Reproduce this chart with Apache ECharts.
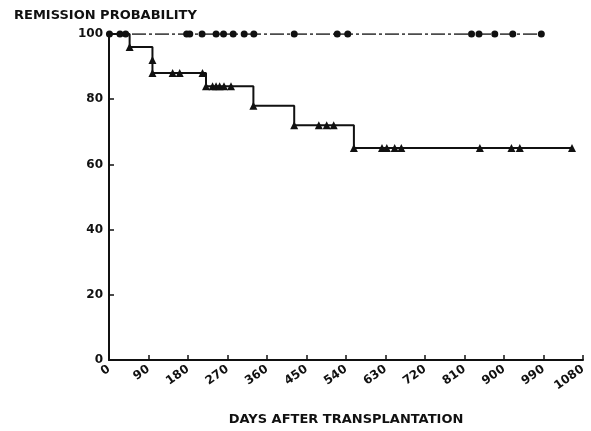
<!DOCTYPE html>
<html>
<head>
<meta charset="utf-8">
<script src="https://cdn.jsdelivr.net/npm/echarts@6/dist/echarts.min.js"></script>
<style>
  html, body { margin: 0; padding: 0; background: #fff; }
  #chart { width: 591px; height: 431px; }
</style>
</head>
<body>
<div id="chart"></div>
<script>
// 缓解概率曲线（两组）

// x 轴刻度 (天)
var xTicks = [0, 90, 180, 270, 360, 450, 540, 630, 720, 810, 900, 990, 1080];

// 下方阶梯曲线 (三角)
var stepDays = [0, 47, 99, 99, 221, 329, 422, 558, 1055];
var stepProb = [100, 96, 92, 88, 84, 78, 72, 65, 65];

var triDays = [47, 99, 99, 145, 161, 213, 221, 236, 244, 252, 262, 278, 329, 422, 478, 496, 512, 558, 622, 633, 651, 666, 845, 917, 936, 1055];
var triProb = [96, 92, 88, 88, 88, 88, 84, 84, 84, 84, 84, 84, 78, 72, 72, 72, 72, 65, 65, 65, 65, 65, 65, 65, 65, 65];

// 上方曲线 (圆点)，一直保持 100
var dotDays = [1, 25, 38, 177, 184, 212, 244, 261, 283, 308, 330, 422, 520, 544, 826, 843, 879, 920, 985];
var dotProb = [100, 100, 100, 100, 100, 100, 100, 100, 100, 100, 100, 100, 100, 100, 100, 100, 100, 100, 100];
var topLineDays = [0, 985];
var topLineProb = [100, 100];

function pairs(xs, ys) {
    var out = [];
    for (var i = 0; i < xs.length; i++) {
        out.push([xs[i], ys[i]]);
    }
    return out;
}

var font = 'DejaVu Sans';
var ink = '#111';

var chart = echarts.init(document.getElementById('chart'));
var option = {
    backgroundColor: '#fff',
    animation: false,
    title: {
        text: 'REMISSION PROBABILITY',
        left: 9,
        top: 4,
        textStyle: { fontFamily: font, fontWeight: 'bold', fontSize: 13, color: ink }
    },
    grid: { left: 109, right: 8, top: 34, bottom: 63 },
    xAxis: {
        type: 'value',
        min: 0,
        max: 1080,
        interval: 90,
        name: 'DAYS AFTER TRANSPLANTATION',
        nameLocation: 'middle',
        nameGap: 53,
        nameTextStyle: { fontFamily: font, fontWeight: 'bold', fontSize: 13, color: ink },
        axisLine: { lineStyle: { color: ink, width: 2 } },
        axisTick: { inside: true, length: 5, lineStyle: { color: ink, width: 1.5 } },
        axisLabel: {
            rotate: 35,
            margin: 8,
            fontFamily: font,
            fontWeight: 'bold',
            fontSize: 12,
            color: ink,
            formatter: function (v) { return String(v); }
        },
        splitLine: { show: false }
    },
    yAxis: {
        type: 'value',
        min: 0,
        max: 100,
        interval: 20,
        axisLine: { show: true, lineStyle: { color: ink, width: 2 } },
        axisTick: { show: true, inside: true, length: 5, lineStyle: { color: ink, width: 1.5 } },
        axisLabel: { margin: 6, fontFamily: font, fontWeight: 'bold', fontSize: 12, color: ink },
        splitLine: { show: false }
    },
    series: [
        {
            type: 'line',
            data: pairs(topLineDays, topLineProb),
            showSymbol: false,
            lineStyle: { color: ink, width: 1.3, type: [14, 3, 3, 3] },
            z: 2
        },
        {
            type: 'scatter',
            data: pairs(dotDays, dotProb),
            symbol: 'circle',
            symbolSize: 7,
            itemStyle: { color: ink, opacity: 1 },
            z: 3
        },
        {
            type: 'line',
            step: 'end',
            data: pairs(stepDays, stepProb),
            showSymbol: false,
            lineStyle: { color: ink, width: 2 },
            z: 2
        },
        {
            type: 'scatter',
            data: pairs(triDays, triProb),
            symbol: 'triangle',
            symbolSize: 8,
            itemStyle: { color: ink, opacity: 1 },
            z: 3
        }
    ]
};
chart.setOption(option);
</script>
</body>
</html>
